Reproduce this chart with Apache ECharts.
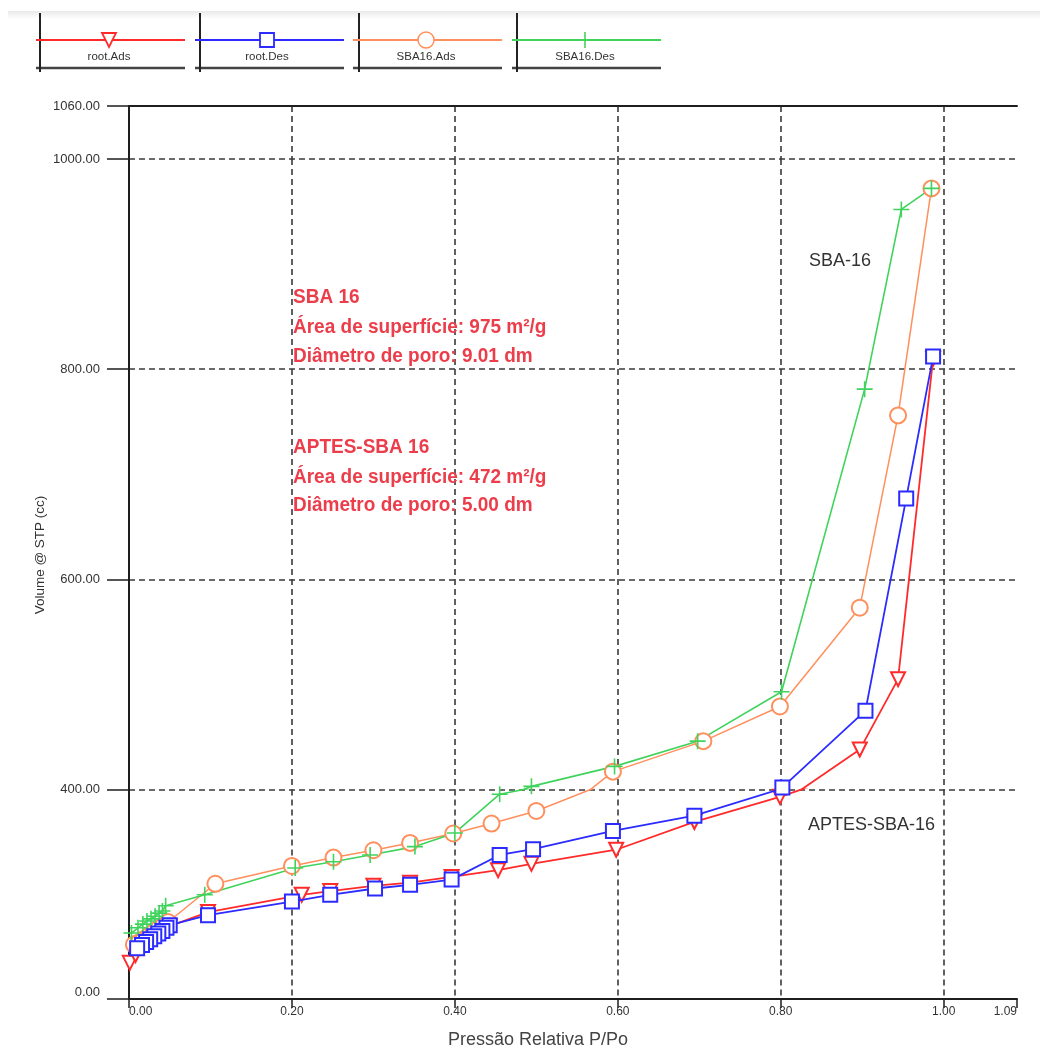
<!DOCTYPE html>
<html><head><meta charset="utf-8">
<script src="https://cdn.jsdelivr.net/npm/echarts@6/dist/echarts.min.js"></script>
<style>html,body{margin:0;padding:0;background:#fff}#c{width:1049px;height:1047px}</style>
</head><body><div id="c"></div>
<script>
// ---- data ----
const rootAdsP = [0.001,0.008,0.016,0.021,0.026,0.031,0.036,0.041,0.046,0.050,0.097,0.212,0.247,0.300,0.345,0.396,0.453,0.494,0.598,0.694,0.799,0.897,0.944,0.987];
const rootAdsV = [69,84,100,106,112,118,123,128,134,139,166,199,206,216,222,233,246,258,285,338,386,438,505,810];
const rootDesP = [0.987,0.954,0.904,0.802,0.694,0.594,0.496,0.455,0.396,0.345,0.302,0.247,0.200,0.097,0.050,0.046,0.041,0.036,0.031,0.026,0.021,0.016,0.010];
const rootDesV = [812,677,475,402,350,321,286,275,228,218,211,199,186,160,141,136,130,125,120,114,109,103,97];
const sbaAdsP = [0.006,0.012,0.018,0.024,0.030,0.036,0.042,0.048,0.106,0.200,0.251,0.300,0.345,0.398,0.445,0.500,0.594,0.705,0.799,0.897,0.944,0.985];
const sbaAdsV = [104,108,114,121,127,134,140,147,220,254,270,284,298,316,335,359,417,446,479,573,756,972];
const sbaDesP = [0.985,0.948,0.903,0.801,0.698,0.596,0.494,0.455,0.400,0.351,0.296,0.251,0.204,0.093,0.045,0.041,0.037,0.032,0.027,0.022,0.017,0.011,0.003];
const sbaDesV = [972,952,781,493,446,422,403,391,317,291,275,262,250,199,178,168,164,158,153,149,143,136,126];

const seriesNames = ['root.Ads','root.Des','SBA16.Ads','SBA16.Des'];
const xMin = 0, xMax = 1.09, xInterval = 0.2;
// y axis in the reference is drawn in three bands with different scales
const yBands = [[0, 400, 400], [400, 1000, 200], [1000, 1060, 60]];
const xTitle = 'Pressão Relativa P/Po';
const yTitle = 'Volume @ STP (cc)';
const notes = [
  ['SBA 16', 'Área de superfície: 975 m²/g', 'Diâmetro de poro: 9.01 dm'],
  ['APTES-SBA 16', 'Área de superfície: 472 m²/g', 'Diâmetro de poro: 5.00 dm']
];
const curveLabels = ['SBA-16', 'APTES-SBA-16'];

// ---- styling ----
const colors = ['#ff2b2b', '#2b2bff', '#ff8f5c', '#40d35c'];
const plusPath = 'path://M0,5L10,5M5,0L5,10';
const symbols = [
  {symbol: 'emptyTriangle', size: 14, rotate: 180, width: 1.8},
  {symbol: 'emptyRect', size: 14, rotate: 0, width: 1.8},
  {symbol: 'emptyCircle', size: 16, rotate: 0, width: 1.5},
  {symbol: plusPath, size: 16, rotate: 0, width: 1.6}
];
const dataSets = [[rootAdsP, rootAdsV], [rootDesP, rootDesV], [sbaAdsP, sbaAdsV], [sbaDesP, sbaDesV]];

const LEFT = 129, WIDTH = 888;
const grids = [
  {left: LEFT, width: WIDTH, top: 789.5, height: 209.5},
  {left: LEFT, width: WIDTH, top: 159, height: 630.5},
  {left: LEFT, width: WIDTH, top: 106, height: 53}
];
const axisColor = '#1e1e1e';
const gridLine = {type: [6, 4], color: '#3a3a3a', width: 1.6};
const FONT = '"Liberation Sans", Arial, sans-serif';

const xAxes = grids.map((g, i) => ({
  type: 'value', gridIndex: i, min: xMin, max: xMax, interval: xInterval,
  position: i === 2 ? 'top' : 'bottom',
  axisLine: {show: i !== 1, onZero: false, lineStyle: {color: axisColor, width: 2}},
  axisTick: {show: i === 0, length: 9, lineStyle: {color: axisColor, width: 1.5}},
  axisLabel: {show: i === 0, margin: 7, fontSize: 12, fontFamily: FONT, color: '#333',
    formatter: v => v.toFixed(2), alignMinLabel: 'left', alignMaxLabel: 'right'},
  splitLine: {show: true, showMinLine: false, showMaxLine: false, lineStyle: gridLine}
}));
const yAxes = yBands.map((b, i) => ({
  type: 'value', gridIndex: i, min: b[0], max: b[1], interval: b[2],
  axisLine: {show: true, onZero: false, lineStyle: {color: axisColor, width: 2}},
  axisTick: {show: true, length: 22, lineStyle: {color: axisColor, width: 1.5}},
  axisLabel: {show: true, margin: 29, fontSize: 13, fontFamily: FONT, color: '#333',
    formatter: v => v.toFixed(2),
    showMinLabel: i !== 2, showMaxLabel: i !== 0,
    verticalAlignMinLabel: i === 0 ? 'bottom' : 'middle'},
  splitLine: {show: i !== 2, showMinLine: false, showMaxLine: true, lineStyle: gridLine}
}));

const series = [];
[0, 1].forEach(gi => {
  dataSets.forEach((ds, k) => {
    const s = symbols[k];
    series.push({
      name: seriesNames[k], type: 'line', xAxisIndex: gi, yAxisIndex: gi,
      data: ds[0].map((p, j) => [p, ds[1][j]]),
      clip: true, smooth: false, animation: false,
      symbol: s.symbol, symbolSize: s.size, symbolRotate: s.rotate, showAllSymbol: true,
      lineStyle: {color: colors[k], width: s.width},
      itemStyle: {color: colors[k], borderColor: colors[k], borderWidth: s.width},
      z: 3 + (k === 1 ? 1 : 0)
    });
  });
});

// ---- legend drawn as in the reference (text below the sample) ----
const legX = [40, 200, 359, 517];
const legLine = [[36, 185], [195, 344], [353, 502], [512, 661]];
const legMark = [109, 267, 426, 585];
const graphics = [];
graphics.push({type: 'rect', shape: {x: 8, y: 11, width: 1032, height: 8},
  style: {fill: new echarts.graphic.LinearGradient(0, 0, 0, 1, [{offset: 0, color: '#e9e9e9'}, {offset: 1, color: '#ffffff'}])}, silent: true});
seriesNames.forEach((n, k) => {
  graphics.push({type: 'line', shape: {x1: legLine[k][0], y1: 68, x2: legLine[k][1], y2: 68}, style: {stroke: '#444', lineWidth: 2.5}});
  graphics.push({type: 'line', shape: {x1: legX[k], y1: 13, x2: legX[k], y2: 72}, style: {stroke: '#222', lineWidth: 2}});
  graphics.push({type: 'line', shape: {x1: legLine[k][0], y1: 40, x2: legLine[k][1], y2: 40}, style: {stroke: colors[k], lineWidth: 1.8}});
  const cx = legMark[k], cy = 40;
  if (k === 0) graphics.push({type: 'polygon', shape: {points: [[cx - 7, cy - 7], [cx + 7, cy - 7], [cx, cy + 7]]}, style: {fill: '#fff', stroke: colors[k], lineWidth: 1.8}});
  if (k === 1) graphics.push({type: 'rect', shape: {x: cx - 7, y: cy - 7, width: 14, height: 14}, style: {fill: '#fff', stroke: colors[k], lineWidth: 1.8}});
  if (k === 2) graphics.push({type: 'circle', shape: {cx: cx, cy: cy, r: 8}, style: {fill: '#fff', stroke: colors[k], lineWidth: 1.5}});
  if (k === 3) {
    graphics.push({type: 'line', shape: {x1: cx - 8, y1: cy, x2: cx + 8, y2: cy}, style: {stroke: colors[k], lineWidth: 1.6}});
    graphics.push({type: 'line', shape: {x1: cx, y1: cy - 8, x2: cx, y2: cy + 8}, style: {stroke: colors[k], lineWidth: 1.6}});
  }
  graphics.push({type: 'text', x: cx, y: 57, style: {text: n, align: 'center', verticalAlign: 'middle', fontSize: 11.5, fontFamily: FONT, fill: '#333'}});
});
// annotation blocks
const noteY = [[297, 327, 356], [447, 477, 505]];
notes.forEach((blk, b) => blk.forEach((t, j) => {
  graphics.push({type: 'text', x: 293, y: noteY[b][j], scaleX: 0.95, z: 10,
    style: {text: t, align: 'left', verticalAlign: 'middle', fontSize: 20, fontWeight: 'bold', fontFamily: FONT, fill: '#ec3d4b'}});
}));
graphics.push({type: 'text', x: 809, y: 261, style: {text: curveLabels[0], align: 'left', verticalAlign: 'middle', fontSize: 18, fontFamily: FONT, fill: '#333'}});
graphics.push({type: 'text', x: 808, y: 825, style: {text: curveLabels[1], align: 'left', verticalAlign: 'middle', fontSize: 18, fontFamily: FONT, fill: '#333'}});
graphics.push({type: 'text', x: 538, y: 1040, style: {text: xTitle, align: 'center', verticalAlign: 'middle', fontSize: 18, fontFamily: FONT, fill: '#444'}});
graphics.push({type: 'text', x: 40, y: 555, rotation: Math.PI / 2, style: {text: yTitle, align: 'center', verticalAlign: 'middle', fontSize: 13.5, fontFamily: FONT, fill: '#333'}});

const chart = echarts.init(document.getElementById('c'), null, {renderer: 'canvas'});
chart.setOption({
  animation: false,
  backgroundColor: '#fff',
  grid: grids,
  xAxis: xAxes,
  yAxis: yAxes,
  series: series,
  graphic: graphics
});
</script></body></html>
